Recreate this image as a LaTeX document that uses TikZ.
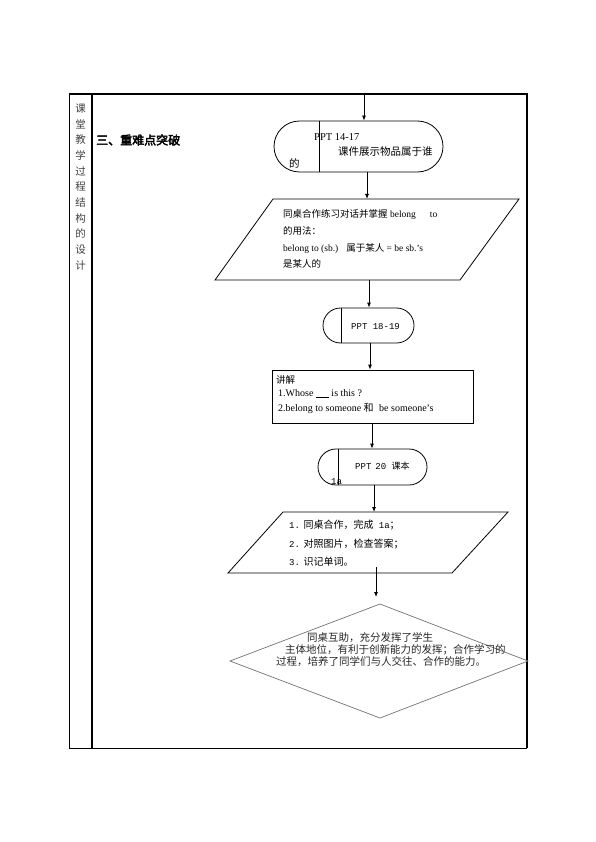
\documentclass[tikz,border=0pt]{standalone}
\usepackage{fontspec}
\setmainfont{Liberation Serif}
\newfontfamily\cjk{Noto Sans CJK SC}
\newfontfamily\cjkb[FakeBold=3]{Noto Sans CJK SC}
\newfontfamily\mono{Liberation Mono}
\usetikzlibrary{shapes.misc,arrows.meta}
\begin{document}
\begin{tikzpicture}[x=1pt,y=-1pt,
  term/.style={draw, rounded rectangle, inner sep=0pt, line width=0.8pt},
  boxs/.style={draw, rectangle, inner sep=0pt, line width=0.8pt},
  shp/.style={draw, line width=0.8pt},
  arr/.style={-{Latex[length=5pt,width=4pt]}, line width=0.8pt},
  txt/.style={anchor=base west, inner sep=0pt},
  thick border/.style={line width=1.8pt},
  thin border/.style={line width=0.8pt}]
\useasboundingbox (0,0) rectangle (595,842);

% table frame
\draw[thin border] (69,94) -- (69,748) -- (527,748);
\draw[thick border] (69,94) -- (527,94) -- (527,748);
\draw[thick border] (92,94) -- (92,748);

% left column text
\node[align=center, inner sep=0pt, text=black!75, font=\cjk\fontsize{10.5}{15.7}\selectfont] (col) at (80.5,187) {课\\堂\\教\\学\\过\\程\\结\\构\\的\\设\\计};
\node[anchor=west, inner sep=0pt, font=\cjkb\fontsize{12}{14}\selectfont] (head) at (96,140) {三、重难点突破};

% terminal 1
\coordinate (in0) at (364,94);
\node[term, minimum width=169pt, minimum height=51pt] (t1) at (358.5,146.5) {};
\draw[line width=0.8pt] (319,0 |- t1.north) -- (319,0 |- t1.south);
\node[txt, font=\fontsize{10.5}{12}\selectfont] (t1a) at (314,141) {PPT 14-17};
\node[txt, font=\cjk\fontsize{10.5}{12}\selectfont] (t1b) at (338,156) {课件展示物品属于谁};
\node[txt, font=\cjk\fontsize{10.5}{12}\selectfont] (t1c) at (289,168) {的};

% parallelogram 1
\coordinate (p1a) at (273,199);
\coordinate (p1b) at (519,199);
\coordinate (p1c) at (460,280);
\coordinate (p1d) at (215,280);
\draw[shp] (p1a) -- (p1b) -- (p1c) -- (p1d) -- cycle;
\coordinate (p1in) at (367,199);
\coordinate (p1out) at (369,280);
\node[txt, font=\fontsize{9.5}{11}\selectfont] (p1t1) at (283,218) {{\cjk 同桌合作练习对话并掌握} belong\hspace{14pt}to};
\node[txt, font=\fontsize{9.5}{11}\selectfont] (p1t2) at (283,234.5) {{\cjk 的用法：}};
\node[txt, font=\fontsize{9.5}{11}\selectfont] (p1t3) at (283,251) {belong to (sb.)\hspace{8pt}{\cjk 属于某人} = be sb.'s};
\node[txt, font=\fontsize{9.5}{11}\selectfont] (p1t4) at (283,267) {{\cjk 是某人的}};

% terminal 2
\node[term, minimum width=91pt, minimum height=35pt] (t2) at (368.5,325.5) {};
\draw[line width=0.8pt] (341,0 |- t2.north) -- (341,0 |- t2.south);
\node[txt, font=\mono\fontsize{9}{11}\selectfont] (t2a) at (351,329) {PPT 18-19};

% rectangle
\node[boxs, minimum width=201pt, minimum height=53pt] (r1) at (372.5,396.5) {};
\node[txt, font=\cjk\fontsize{9.5}{11}\selectfont] (r1a) at (276,383) {讲解};
\node[txt, font=\fontsize{10}{12}\selectfont] (r1b) at (278,396) {1.Whose \underline{\hspace{13pt}} is this ?};
\node[txt, font=\fontsize{10}{12}\selectfont] (r1c) at (278,411) {2.belong to someone {\cjk 和}\hspace{3pt} be someone's};

% terminal 3
\node[term, minimum width=109pt, minimum height=36pt] (t3) at (372.5,467) {};
\draw[line width=0.8pt] (338,0 |- t3.north) -- (338,0 |- t3.south);
\node[txt, font=\mono\fontsize{9}{11}\selectfont] (t3a) at (355,469.5) {PPT\hspace{4pt}20 {\cjk 课本}};
\node[txt, font=\mono\fontsize{9}{11}\selectfont] (t3b) at (331,484) {1a};

% parallelogram 2
\coordinate (p2a) at (283,512);
\coordinate (p2b) at (508,512);
\coordinate (p2c) at (452,573);
\coordinate (p2d) at (228,573);
\draw[shp] (p2a) -- (p2b) -- (p2c) -- (p2d) -- cycle;
\coordinate (p2in) at (374,512);
\coordinate (p2out) at (376,567);
\node[txt, font=\mono\fontsize{9}{11}\selectfont] (p2t1) at (289,528) {1.\hspace{3.5pt}{\cjk\fontsize{10}{11}\selectfont 同桌合作，完成} 1a{\cjk\fontsize{10}{11}\selectfont ；}};
\node[txt, font=\mono\fontsize{9}{11}\selectfont] (p2t2) at (289,547) {2.\hspace{3.5pt}{\cjk\fontsize{10}{11}\selectfont 对照图片，检查答案；}};
\node[txt, font=\mono\fontsize{9}{11}\selectfont] (p2t3) at (289,565) {3.\hspace{3.5pt}{\cjk\fontsize{10}{11}\selectfont 识记单词。}};

% diamond
\coordinate (dt) at (380,604);
\coordinate (dr) at (528,661);
\coordinate (db) at (380,718);
\coordinate (dl) at (230,661);
\draw[line width=0.7pt, draw=black!55] (dt) -- (dr) -- (db) -- (dl) -- cycle;
\coordinate (din) at (376,597);
\node[txt, font=\cjk\fontsize{10.5}{12}\selectfont, text=black!85] (d1) at (307,641) {同桌互助，充分发挥了学生};
\node[txt, font=\cjk\fontsize{10.5}{12}\selectfont, text=black!85] (d2) at (285,653.5) {主体地位，有利于创新能力的发挥；合作学习的};
\node[txt, font=\cjk\fontsize{10.5}{12}\selectfont, text=black!85] (d3) at (276,665) {过程，培养了同学们与人交往、合作的能力。};

% connectors
\draw[arr] (in0) -- (in0 |- t1.north);
\draw[arr] (p1in |- t1.south) -- (p1in);
\draw[arr] (p1out) -- (p1out |- t2.north);
\draw[arr] (370,0 |- t2.south) -- (370,0 |- r1.north);
\draw[arr] (372,0 |- r1.south) -- (372,0 |- t3.north);
\draw[arr] (p2in |- t3.south) -- (p2in);
\draw[arr] (p2out) -- (din);
\end{tikzpicture}
\end{document}
